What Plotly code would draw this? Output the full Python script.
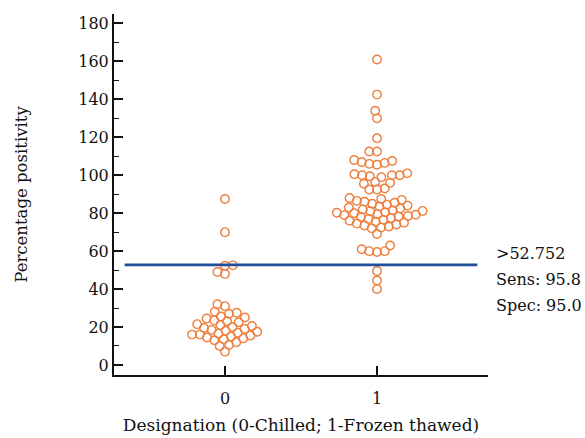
import plotly.graph_objects as go

# ---- data ----
categories = [0, 1]
chilled = [87.5, 70, 52.5, 52.3, 49, 48,
           32, 31, 28, 27.5, 27, 25.5, 25, 24.5, 23.5, 23,
           22.5, 21.5, 21, 20.5, 20, 19.5, 19, 18.5, 18, 17.5,
           17, 16.5, 16, 16, 15.5, 15, 14.5, 14, 13.5, 13,
           12, 10.5, 10, 7]
frozen = [161, 142.5, 134, 130, 119.5, 112.5, 112.5,
          108, 107.5, 107, 106.5, 106, 105.5,
          101, 100.5, 100, 100, 100, 99.5, 99,
          96.5, 96, 95.5, 93, 92.5, 92.5,
          88, 87.5, 87, 86.5, 86, 85.5, 85, 84.5, 84, 83.5,
          83, 82.5, 82, 81.5, 81.2, 81, 80.5, 80.2, 80, 79.5,
          79.2, 79, 78.5, 78.2, 78, 77.5, 77, 76.5, 76, 75.5,
          75, 74.5, 74, 73.5, 73, 72.5, 72, 69,
          63, 61, 60, 60, 59.5, 49.5, 44.5, 40]
cutoff = 52.752
side_text = [">52.752", "Sens: 95.8", "Spec: 95.0"]
side_text_y = [59, 45, 31.5]

y_range = [-5.3, 185]
x_range = [-0.73, 1.73]

W, H = 585, 438
margin = dict(l=114, r=97, t=14, b=63)
px_per_x = (W - margin["l"] - margin["r"]) / (x_range[1] - x_range[0])
px_per_y = (H - margin["t"] - margin["b"]) / (y_range[1] - y_range[0])


def swarm(vals, d=7.8):
    """Beeswarm offsets (in x data units) computed from the values."""
    order = sorted(range(len(vals)), key=lambda i: vals[i])
    placed = []
    offs = [0.0] * len(vals)
    for i in order:
        y = vals[i] * px_per_y
        cands = [0.0]
        for (px, py) in placed:
            dy = abs(py - y)
            if dy < d:
                dx = (d * d - dy * dy) ** 0.5
                cands += [px + dx, px - dx]
        cands.sort(key=lambda c: (abs(c), c))
        chosen = 0.0
        for c in cands:
            if all((c - px) ** 2 + (y - py) ** 2 >= d * d - 1e-6 for px, py in placed):
                chosen = c
                break
        placed.append((chosen, y))
        offs[i] = chosen / px_per_x
    return offs


fig = go.Figure()
orange = "#EE7F3F"
for cat, vals in zip(categories, [chilled, frozen]):
    offs = swarm(vals)
    fig.add_trace(go.Scatter(
        x=[cat + o for o in offs], y=vals, mode="markers",
        marker=dict(symbol="circle-open", size=8.5, color=orange,
                    line=dict(width=1.4, color=orange)),
        showlegend=False, hoverinfo="y"))

fig.add_shape(type="line", xref="x", yref="y", x0=-0.66, x1=1.66,
              y0=cutoff, y1=cutoff, line=dict(color="#1F4E9A", width=2.6))

font_family = "DejaVu Serif"
for t, yy in zip(side_text, side_text_y):
    fig.add_annotation(text=t, xref="paper", yref="y", x=1.016, y=yy,
                       xanchor="left", yanchor="middle", showarrow=False,
                       font=dict(family=font_family, size=16, color="#111"))

fig.update_layout(
    width=W, height=H, margin=margin,
    paper_bgcolor="white", plot_bgcolor="white",
    font=dict(family=font_family, size=16, color="#111"),
    xaxis=dict(range=x_range, tickmode="array", tickvals=categories,
               ticktext=[str(c) for c in categories],
               automargin=False,
               showline=True, linecolor="#111", linewidth=2,
               ticks="inside", ticklen=9, tickwidth=2, tickcolor="#111",
               ticklabelstandoff=8,
               showgrid=False, zeroline=False,
               title=dict(text="Designation (0-Chilled; 1-Frozen thawed)",
                          font=dict(size=17), standoff=12)),
    yaxis=dict(range=y_range, tickmode="linear", tick0=0, dtick=20,
               automargin=False,
               showline=True, linecolor="#111", linewidth=2,
               ticks="inside", ticklen=9, tickwidth=2, tickcolor="#111",
               minor=dict(dtick=10, tick0=0, ticks="inside", ticklen=5,
                          tickwidth=1, tickcolor="#111"),
               showgrid=False, zeroline=False,
               title=dict(text="Percentage positivity",
                          font=dict(size=16.5), standoff=46)),
)

fig.write_html("out.html")
